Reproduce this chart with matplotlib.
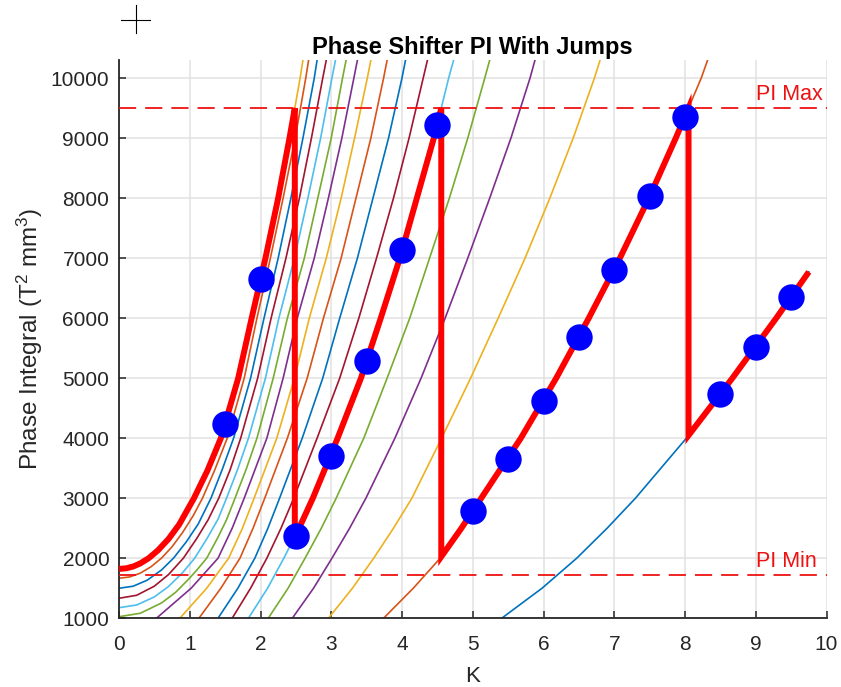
import matplotlib
matplotlib.use("Agg")
import matplotlib.pyplot as plt
from matplotlib.lines import Line2D

plt.rcParams['font.family'] = ['Liberation Sans', 'DejaVu Sans']
plt.rcParams['mathtext.fontset'] = 'custom'
plt.rcParams['mathtext.rm'] = 'Liberation Sans'
plt.rcParams['mathtext.it'] = 'Liberation Sans:italic'
plt.rcParams['mathtext.bf'] = 'Liberation Sans:bold'

# ---------------- data ----------------
# standard phase-integral levels at which the K crossing was read
PI_LEVELS = [1000, 1500, 2000, 2500, 3000, 4000, 5000, 6000, 7000, 8000, 9000, 10000, 10300]

# harmonics 2..11 : K at each PI level
k_n2 = [3.74, 4.16, 4.54, 4.84, 5.12, 5.68, 6.18, 6.64, 7.08, 7.49, 7.87, 8.23, 8.32]
k_n3 = [2.96, 3.30, 3.60, 3.88, 4.14, 4.56, 4.97, 5.36, 5.74, 6.09, 6.42, 6.72, 6.80]
k_n4 = [2.45, 2.75, 3.01, 3.26, 3.49, 3.90, 4.27, 4.61, 4.93, 5.24, 5.54, 5.81, 5.88]
k_n5 = [2.11, 2.39, 2.63, 2.86, 3.07, 3.46, 3.79, 4.11, 4.39, 4.67, 4.93, 5.17, 5.24]
k_n6 = [1.83, 2.10, 2.33, 2.545, 2.74, 3.09, 3.42, 3.70, 3.97, 4.21, 4.45, 4.66, 4.73]
k_n7 = [1.60, 1.86, 2.09, 2.29, 2.47, 2.80, 3.12, 3.39, 3.64, 3.88, 4.10, 4.30, 4.36]
k_n8 = [1.40, 1.68, 1.92, 2.105, 2.27, 2.59, 2.88, 3.12, 3.37, 3.59, 3.81, 4.00, 4.05]
k_n9 = [1.13, 1.44, 1.71, 1.895, 2.06, 2.38, 2.66, 2.89, 3.14, 3.35, 3.56, 3.74, 3.79]
k_n10 = [0.86, 1.24, 1.55, 1.745, 1.91, 2.23, 2.48, 2.69, 2.93, 3.14, 3.33, 3.51, 3.56]
k_n11 = [0.53, 1.02, 1.40, 1.60, 1.77, 2.09, 2.32, 2.52, 2.76, 2.96, 3.15, 3.32, 3.37]

# harmonic 1 (lowest) ends where the data stops
k_n1 = [5.41, 5.98, 6.47, 6.90, 7.30, 8.02, 8.67, 9.29, 9.75]
pi_n1 = [1000, 1500, 2000, 2500, 3000, 4000, 5000, 6000, 6770]

# harmonics 12..17 start above 1000 at K = 0
k_n12 = [0.0, 0.3, 0.6, 0.8, 1.0, 1.12, 1.24, 1.40, 1.52, 1.64, 1.80, 1.95, 2.18, 2.38, 2.62,
         2.81, 3.00, 3.16, 3.21]
pi_n12 = [1025, 1082, 1253, 1431, 1670, 1830, 2000, 2350, 2640, 3000, 3490, 4000, 5000, 6000,
          7000, 8000, 9000, 10000, 10300]
k_n13 = [0.0, 0.25, 0.5, 0.7, 0.9, 1.07, 1.25, 1.40, 1.52, 1.68, 1.83, 2.07, 2.26, 2.48, 2.67,
         2.85, 3.01, 3.06]
pi_n13 = [1175, 1220, 1355, 1528, 1760, 2000, 2340, 2650, 3000, 3490, 4000, 5000, 6000, 7000,
          8000, 9000, 10000, 10300]
k_n14 = [0.0, 0.25, 0.5, 0.7, 0.91, 1.10, 1.26, 1.41, 1.57, 1.72, 1.96, 2.15, 2.36, 2.55, 2.72,
         2.88, 2.93]
pi_n14 = [1332, 1382, 1534, 1727, 2000, 2330, 2640, 3000, 3470, 4000, 5000, 6000, 7000, 8000,
          9000, 10000, 10300]
k_n15 = [0.0, 0.2, 0.4, 0.6, 0.77, 0.95, 1.12, 1.30, 1.46, 1.62, 1.86, 2.05, 2.25, 2.43, 2.60,
         2.76, 2.80]
pi_n15 = [1499, 1533, 1634, 1803, 2000, 2270, 2570, 3000, 3480, 4000, 5000, 6000, 7000, 8000,
          9000, 10000, 10300]
k_n16 = [0.0, 0.15, 0.3, 0.45, 0.6, 0.75, 0.9, 1.05, 1.18, 1.35, 1.53, 1.77, 1.95, 2.14, 2.32,
         2.49, 2.64, 2.68]
pi_n16 = [1666, 1687, 1750, 1855, 2000, 2190, 2430, 2710, 3000, 3460, 4000, 5000, 6000, 7000,
          8000, 9000, 10000, 10300]
k_n17 = [0.0, 0.1, 0.2, 0.3, 0.42, 0.55, 0.7, 0.85, 1.06, 1.25, 1.44, 1.685, 1.875, 2.07, 2.25,
         2.41, 2.56, 2.60]
pi_n17 = [1821, 1831, 1861, 1912, 2000, 2130, 2320, 2560, 3000, 3460, 4000, 5000, 6000, 7000,
          8000, 9000, 10000, 10300]

# red path: harmonics followed and the jumps between them
PATH_HARMONICS = [17, 6, 2, 1]
JUMP_K = [2.485, 4.555, 8.05]
JUMP_LOW = [2360, 2025, 4046]
PI_MAX = 9500
PI_MIN = 1725

# blue dots
DOT_K = [1.5, 2.0, 2.5, 3.0, 3.5, 4.0, 4.5, 5.0, 5.5, 6.0, 6.5, 7.0, 7.5, 8.0, 8.5, 9.0, 9.5]
DOT_PI = [4241, 6644, 2372, 3707, 5293, 7129, 9215, 2791, 3659, 4627, 5678, 6796, 8031, 9349,
          4741, 5526, 6344]

X_TICKS = list(range(0, 11))
Y_TICKS = list(range(1000, 10001, 1000))

MATLAB_COLORS = ['#0072BD', '#D95319', '#EDB120', '#7E2F8E', '#77AC30', '#4DBEEE', '#A2142F']

curves = {
    1: (k_n1, pi_n1), 2: (k_n2, PI_LEVELS), 3: (k_n3, PI_LEVELS), 4: (k_n4, PI_LEVELS),
    5: (k_n5, PI_LEVELS), 6: (k_n6, PI_LEVELS), 7: (k_n7, PI_LEVELS), 8: (k_n8, PI_LEVELS),
    9: (k_n9, PI_LEVELS), 10: (k_n10, PI_LEVELS), 11: (k_n11, PI_LEVELS),
    12: (k_n12, pi_n12), 13: (k_n13, pi_n13), 14: (k_n14, pi_n14), 15: (k_n15, pi_n15),
    16: (k_n16, pi_n16), 17: (k_n17, pi_n17),
}

# ---------------- figure ----------------
W, H = 841, 687
fig = plt.figure(figsize=(W / 100, H / 100), dpi=100)
ax_l, ax_r, ax_t, ax_b = 119, 826.5, 60, 618.2
ax = fig.add_axes([ax_l / W, 1 - ax_b / H, (ax_r - ax_l) / W, (ax_b - ax_t) / H])

for n in range(1, 18):
    ks, ps = curves[n]
    ax.plot(ks, ps, color=MATLAB_COLORS[(n - 1) % 7], lw=1.2, zorder=2, clip_on=True)

# red path
rk, rp = [], []
for i, n in enumerate(PATH_HARMONICS):
    ks, ps = curves[n]
    lo = JUMP_LOW[i - 1] if i > 0 else -1
    if i > 0:
        rk.append(JUMP_K[i - 1]); rp.append(JUMP_LOW[i - 1])
    for k, p in zip(ks, ps):
        if p > lo and p < PI_MAX:
            rk.append(k); rp.append(p)
    if i < len(JUMP_K):
        rk.append(JUMP_K[i]); rp.append(PI_MAX)
ax.plot(rk, rp, color='#FF0000', lw=4.3, zorder=4, solid_joinstyle='miter',
        solid_capstyle='butt')

# limits
for lvl, lab in [(PI_MAX, 'PI Max'), (PI_MIN, 'PI Min')]:
    ax.plot([0, 10], [lvl, lvl], color='#EE1111', lw=1.3, linestyle=(0, (9.5, 5)), zorder=3)
    ax.text(9.0, lvl + 128, lab, color='#EE1111', fontsize=15.5, ha='left', va='baseline',
            zorder=5)

ax.plot(DOT_K, DOT_PI, 'o', color='#0000FF', markersize=19, markeredgewidth=0, zorder=6)

ax.set_xlim(0, 10)
ax.set_ylim(1000, 10300)
ax.set_xticks(X_TICKS)
ax.set_yticks(Y_TICKS)
ax.grid(True, color='#E1E1E1', lw=1.1, zorder=0)
ax.set_axisbelow(True)
for s in ['top', 'right']:
    ax.spines[s].set_visible(False)
for s in ['left', 'bottom']:
    ax.spines[s].set_color('#262626')
    ax.spines[s].set_linewidth(1.3)
ax.tick_params(direction='in', length=5, width=1.1, colors='#262626', labelsize=15,
               labelcolor='#262626')
ax.tick_params(axis='x', pad=12)
ax.tick_params(axis='y', pad=7)

ax.set_title('Phase Shifter PI With Jumps', fontsize=17, fontweight='bold', pad=4,
             color='black')
ax.set_xlabel('K', fontsize=16, color='#262626', va='baseline')
ax.set_ylabel('Phase Integral (T$^2$ mm$^3$)', fontsize=17.5, color='#262626')
ax.xaxis.set_label_coords(0.5, -0.1143)
ax.yaxis.set_label_coords(-0.105, 0.5)

# cursor crosshair in the top-left corner
fig.add_artist(Line2D([121 / W, 150 / W], [1 - 19.5 / H] * 2, color='black', lw=0.8))
fig.add_artist(Line2D([135.7 / W] * 2, [1 - 5 / H, 1 - 33 / H], color='black', lw=0.8))

fig.savefig('out.png', dpi=100)
